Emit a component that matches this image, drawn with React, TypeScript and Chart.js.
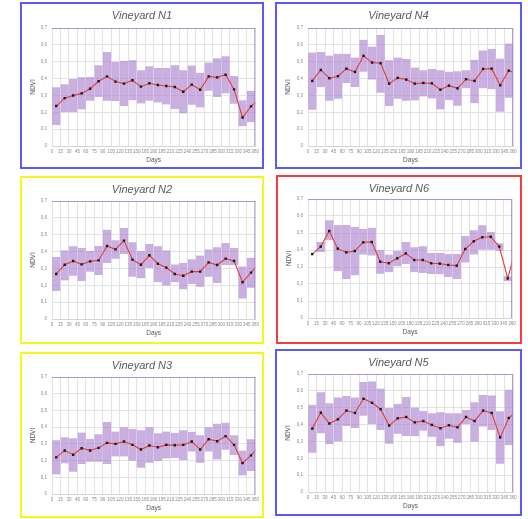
import React, { useEffect, useRef } from "react";
import { Chart, registerables } from "chart.js";

Chart.register(...registerables);

// ---- axis / tick definitions ----
const dayTicks = [0, 15, 30, 45, 60, 75, 90, 105, 120, 135, 150, 165, 180, 195, 210, 225, 240, 255, 270, 285, 300, 315, 330, 345, 360];
const yTicks = [0, 0.1, 0.2, 0.3, 0.4, 0.5, 0.6, 0.7];
// sample positions (days) of each observation; last one lies beyond the axis end
const sampleDays = [7.5, 22.5, 37.5, 52.5, 67.5, 82.5, 97.5, 112.5, 127.5, 142.5, 157.5, 172.5, 187.5, 202.5, 217.5, 232.5, 247.5, 262.5, 277.5, 292.5, 307.5, 322.5, 337.5, 352.5, 367.5];

// ---- Vineyard N1 ----
const n1Mean = [0.237, 0.284, 0.300, 0.312, 0.340, 0.384, 0.413, 0.382, 0.370, 0.390, 0.352, 0.372, 0.362, 0.356, 0.350, 0.322, 0.364, 0.334, 0.413, 0.407, 0.423, 0.336, 0.169, 0.235, 0.28];
const n1Min = [0.125, 0.200, 0.200, 0.217, 0.268, 0.290, 0.268, 0.266, 0.237, 0.272, 0.252, 0.268, 0.258, 0.246, 0.220, 0.193, 0.245, 0.229, 0.328, 0.290, 0.312, 0.250, 0.117, 0.141];
const n1Max = [0.348, 0.366, 0.398, 0.408, 0.410, 0.479, 0.557, 0.500, 0.505, 0.509, 0.449, 0.473, 0.463, 0.463, 0.479, 0.449, 0.477, 0.435, 0.495, 0.521, 0.533, 0.415, 0.272, 0.328];

// ---- Vineyard N4 ----
const n4Mean = [0.386, 0.451, 0.402, 0.414, 0.459, 0.439, 0.535, 0.495, 0.491, 0.370, 0.404, 0.394, 0.370, 0.374, 0.372, 0.334, 0.358, 0.342, 0.396, 0.386, 0.457, 0.459, 0.360, 0.447, 0.43];
const n4Min = [0.215, 0.348, 0.268, 0.280, 0.374, 0.350, 0.441, 0.394, 0.316, 0.237, 0.280, 0.268, 0.270, 0.294, 0.282, 0.217, 0.272, 0.239, 0.342, 0.254, 0.342, 0.336, 0.203, 0.286];
const n4Max = [0.555, 0.557, 0.537, 0.547, 0.547, 0.525, 0.630, 0.590, 0.658, 0.509, 0.525, 0.517, 0.465, 0.449, 0.457, 0.449, 0.441, 0.443, 0.449, 0.511, 0.567, 0.577, 0.519, 0.608];

// ---- Vineyard N2 ----
const n2Mean = [0.267, 0.322, 0.344, 0.324, 0.342, 0.348, 0.433, 0.413, 0.465, 0.352, 0.322, 0.378, 0.328, 0.305, 0.267, 0.257, 0.281, 0.281, 0.336, 0.320, 0.358, 0.344, 0.218, 0.275, 0.33];
const n2Min = [0.166, 0.229, 0.257, 0.225, 0.281, 0.261, 0.332, 0.358, 0.386, 0.251, 0.241, 0.303, 0.218, 0.198, 0.218, 0.176, 0.208, 0.192, 0.251, 0.214, 0.320, 0.320, 0.121, 0.186];
const n2Max = [0.368, 0.407, 0.431, 0.421, 0.403, 0.433, 0.530, 0.467, 0.540, 0.455, 0.403, 0.445, 0.431, 0.407, 0.324, 0.332, 0.354, 0.376, 0.413, 0.425, 0.451, 0.421, 0.312, 0.364];

// ---- Vineyard N6 ----
const n6Mean = [0.376, 0.420, 0.512, 0.408, 0.386, 0.394, 0.445, 0.447, 0.331, 0.322, 0.351, 0.380, 0.341, 0.341, 0.322, 0.320, 0.312, 0.308, 0.406, 0.451, 0.475, 0.478, 0.420, 0.233, 0.42];
const n6Min = [null, 0.388, 0.457, 0.275, 0.229, 0.251, 0.373, 0.367, 0.261, 0.269, 0.304, 0.318, 0.269, 0.265, 0.259, 0.257, 0.241, 0.229, 0.327, 0.373, 0.402, 0.402, 0.396, 0.216];
const n6Max = [null, 0.447, 0.575, 0.547, 0.547, 0.537, 0.524, 0.531, 0.400, 0.373, 0.396, 0.447, 0.416, 0.422, 0.384, 0.384, 0.376, 0.376, 0.482, 0.516, 0.545, 0.506, 0.439, 0.245];

// ---- Vineyard N3 ----
const n3Mean = [0.219, 0.260, 0.235, 0.274, 0.260, 0.276, 0.306, 0.300, 0.314, 0.294, 0.266, 0.290, 0.280, 0.294, 0.292, 0.294, 0.314, 0.266, 0.328, 0.316, 0.346, 0.294, 0.185, 0.231, 0.29];
const n3Min = [0.117, 0.183, 0.133, 0.179, 0.193, 0.193, 0.179, 0.225, 0.225, 0.199, 0.157, 0.187, 0.197, 0.213, 0.215, 0.203, 0.254, 0.187, 0.254, 0.207, 0.264, 0.233, 0.111, 0.137];
const n3Max = [0.322, 0.340, 0.334, 0.368, 0.330, 0.358, 0.431, 0.374, 0.400, 0.390, 0.382, 0.400, 0.364, 0.374, 0.366, 0.382, 0.372, 0.352, 0.400, 0.421, 0.427, 0.352, 0.260, 0.328];

// ---- Vineyard N5 ----
const n5Mean = [0.376, 0.471, 0.406, 0.431, 0.483, 0.469, 0.553, 0.529, 0.491, 0.394, 0.437, 0.445, 0.413, 0.421, 0.398, 0.378, 0.396, 0.384, 0.445, 0.421, 0.483, 0.469, 0.324, 0.439, 0.48];
const n5Min = [0.233, 0.348, 0.284, 0.300, 0.392, 0.380, 0.453, 0.402, 0.368, 0.286, 0.346, 0.332, 0.330, 0.364, 0.328, 0.272, 0.316, 0.292, 0.402, 0.298, 0.388, 0.368, 0.167, 0.278];
const n5Max = [0.517, 0.592, 0.527, 0.561, 0.569, 0.561, 0.652, 0.656, 0.614, 0.499, 0.523, 0.563, 0.501, 0.481, 0.467, 0.473, 0.467, 0.467, 0.487, 0.533, 0.575, 0.573, 0.479, 0.606];

type PanelDef = {
  title: string;
  mean: (number | null)[];
  min: (number | null)[];
  max: (number | null)[];
  color: string;
  box: [number, number, number, number];
  pad: { l: number; t: number; r: number; b: number };
};

const BLUE = "#5a5af6";
const YELLOW = "#f7f51e";
const RED = "#f53b3b";

const panels: PanelDef[] = [
  { title: "Vineyard N1", mean: n1Mean, min: n1Min, max: n1Max, color: BLUE, box: [20, 2, 244, 167], pad: { l: 30, t: 24, r: 5, b: 21 } },
  { title: "Vineyard N4", mean: n4Mean, min: n4Min, max: n4Max, color: BLUE, box: [275, 2, 247, 167], pad: { l: 31, t: 24, r: 7, b: 21 } },
  { title: "Vineyard N2", mean: n2Mean, min: n2Min, max: n2Max, color: YELLOW, box: [20, 176, 244, 168], pad: { l: 30, t: 23, r: 5, b: 23 } },
  { title: "Vineyard N6", mean: n6Mean, min: n6Min, max: n6Max, color: RED, box: [276, 175, 246, 169], pad: { l: 30, t: 22, r: 8, b: 24 } },
  { title: "Vineyard N3", mean: n3Mean, min: n3Min, max: n3Max, color: YELLOW, box: [20, 352, 244, 166], pad: { l: 30, t: 23, r: 5, b: 22 } },
  { title: "Vineyard N5", mean: n5Mean, min: n5Min, max: n5Max, color: BLUE, box: [275, 349, 247, 167], pad: { l: 31, t: 23, r: 7, b: 22 } },
];

const FONT = "'Liberation Sans', Arial, sans-serif";

function Panel({ def }: { def: PanelDef }) {
  const ref = useRef<HTMLCanvasElement | null>(null);
  const [bx, by, bw, bh] = def.box;
  const cw = bw - 4;
  const ch = bh - 4;

  useEffect(() => {
    const canvas = ref.current;
    if (!canvas) return;

    const decor = {
      id: "decor",
      afterDraw(chart: any) {
        const ctx = chart.ctx;
        const a = chart.chartArea;
        ctx.save();
        // plot frame accents (top & right)
        ctx.strokeStyle = "rgba(165,128,208,0.8)";
        ctx.lineWidth = 1;
        ctx.beginPath();
        ctx.moveTo(a.left, a.top + 0.5);
        ctx.lineTo(a.right, a.top + 0.5);
        ctx.moveTo(a.right - 0.5, a.top);
        ctx.lineTo(a.right - 0.5, a.bottom);
        ctx.stroke();
        // title
        ctx.fillStyle = "#595959";
        ctx.textAlign = "center";
        ctx.textBaseline = "middle";
        ctx.font = `italic 11px ${FONT}`;
        ctx.fillText(def.title, chart.width / 2, 12);
        // axis titles
        ctx.font = `6.5px ${FONT}`;
        ctx.fillText("Days", (a.left + a.right) / 2, a.bottom + 14);
        ctx.translate(11, (a.top + a.bottom) / 2);
        ctx.rotate(-Math.PI / 2);
        ctx.fillText("NDVI", 0, 0);
        ctx.restore();
      },
    };

    const chart = new Chart(canvas, {
      type: "bar",
      data: {
        datasets: [
          {
            type: "line",
            data: sampleDays.map((d, i) => ({ x: d, y: def.mean[i] })),
            borderColor: "#e63b36",
            borderWidth: 1.1,
            pointStyle: "rect",
            pointRadius: 1.7,
            pointBackgroundColor: "#1a1a1a",
            pointBorderColor: "#1a1a1a",
            pointBorderWidth: 0,
            tension: 0,
            order: 0,
          } as any,
          {
            type: "bar",
            data: def.min.map((lo, i) => ({
              x: sampleDays[i],
              y: lo == null || def.max[i] == null ? null : [lo, def.max[i]],
            })),
            backgroundColor: "rgba(165,124,205,0.6)",
            borderColor: "rgba(236,228,245,0.85)",
            borderWidth: { left: 0.5, right: 0.5, top: 0, bottom: 0 },
            borderSkipped: false,
            barPercentage: 1,
            categoryPercentage: 1,
            order: 1,
          } as any,
        ],
      },
      options: {
        animation: false,
        responsive: false,
        maintainAspectRatio: false,
        layout: { padding: { left: 0, top: def.pad.t, right: def.pad.r, bottom: 0 } },
        plugins: {
          legend: { display: false },
          tooltip: { enabled: false },
          title: { display: false },
        },
        scales: {
          x: {
            type: "linear",
            min: 0,
            max: 360,
            offset: false,
            afterBuildTicks: (s: any) => {
              s.ticks = dayTicks.map((v) => ({ value: v }));
            },
            afterFit: (s: any) => {
              s.height = def.pad.b;
            },
            ticks: {
              autoSkip: false,
              maxRotation: 0,
              padding: 3,
              color: "#8a8a8a",
              font: { size: 4.5, family: FONT },
              callback: (v: any) => String(v),
            },
            grid: { color: "#e2e2e2", drawTicks: false, offset: false },
            border: { color: "#d4d4d4" },
          },
          y: {
            min: 0,
            max: 0.7,
            afterBuildTicks: (s: any) => {
              s.ticks = yTicks.map((v) => ({ value: v }));
            },
            afterFit: (s: any) => {
              s.width = def.pad.l;
            },
            ticks: {
              padding: 5,
              color: "#8a8a8a",
              font: { size: 4.5, family: FONT },
              callback: (v: any) => (v === 0 ? "0" : Number(v).toFixed(1).replace(".", ",")),
            },
            grid: { color: "#e2e2e2", drawTicks: false },
            border: { display: false },
          },
        },
      } as any,
      plugins: [decor],
    });
    return () => chart.destroy();
  }, [def]);

  return (
    <div
      style={{
        position: "absolute",
        left: bx,
        top: by,
        width: bw,
        height: bh,
        border: `2px solid ${def.color}`,
        boxSizing: "border-box",
        background: "#fff",
      }}
    >
      <canvas ref={ref} width={cw} height={ch} style={{ display: "block", width: cw, height: ch }} />
    </div>
  );
}

export default function App() {
  return (
    <div style={{ position: "absolute", left: 0, top: 0, width: 528, height: 519, background: "#fff" }}>
      {panels.map((p) => (
        <Panel key={p.title} def={p} />
      ))}
    </div>
  );
}
